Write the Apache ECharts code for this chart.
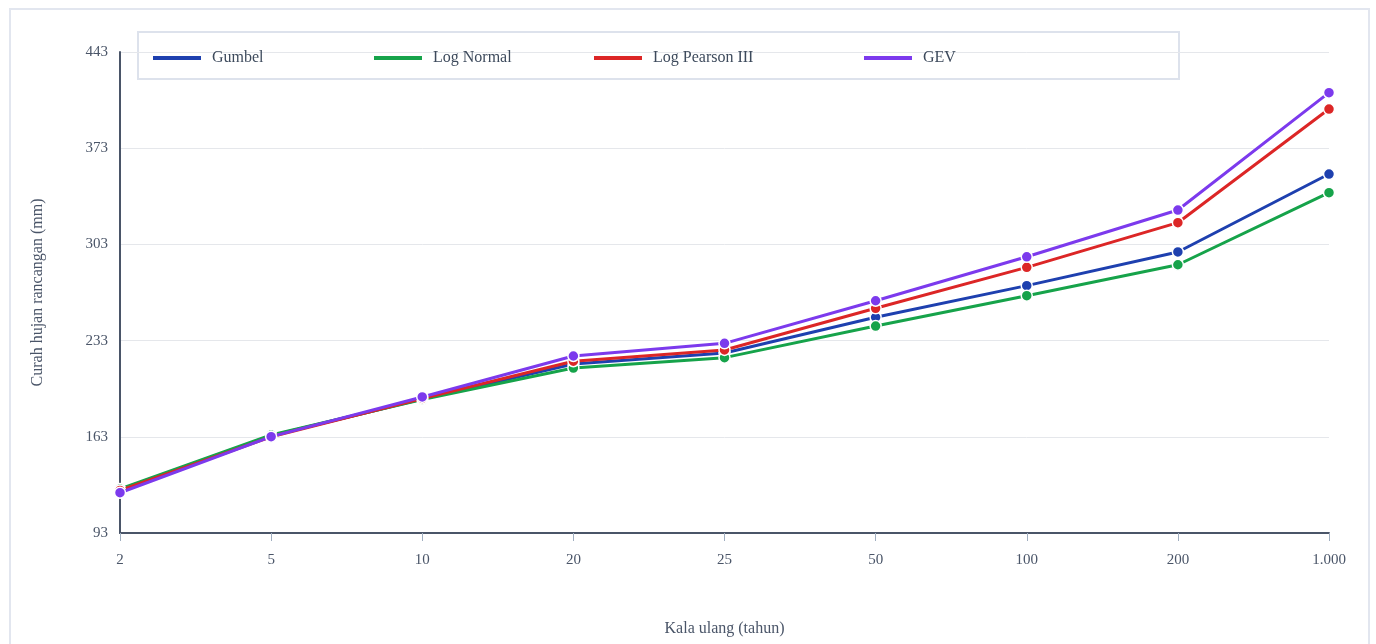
<!DOCTYPE html>
<html>
<head>
<meta charset="utf-8">
<script src="https://cdn.jsdelivr.net/npm/echarts@6/dist/echarts.min.js"></script>
<style>
  html, body { margin: 0; padding: 0; background: #ffffff; overflow: hidden; }
  #frame { position: absolute; left: 9px; top: 8px; width: 1361px; height: 700px; border: 2px solid #e2e6ef; box-sizing: border-box; }
  #chart { position: absolute; left: 0; top: 0; width: 1376px; height: 644px; }
</style>
</head>
<body>
<div id="frame"></div>
<div id="chart"></div>
<script>
const categories = ['2', '5', '10', '20', '25', '50', '100', '200', '1.000'];
const gumbel      = [124.5, 163.8, 190.5, 216.0, 224.0, 250.0, 273.0, 297.5, 354.2];
const logNormal   = [125.0, 164.3, 190.1, 213.0, 220.6, 243.6, 265.7, 288.2, 340.6];
const logPearson  = [124.0, 163.0, 190.9, 218.0, 226.2, 256.5, 286.3, 318.8, 401.5];
const gev         = [122.3, 163.1, 192.0, 221.8, 231.0, 262.0, 294.0, 328.0, 413.4];
const seriesNames = ['Gumbel', 'Log Normal', 'Log Pearson III', 'GEV'];
const seriesColors = ['#1e40af', '#16a34a', '#dc2626', '#7c3aed'];
const yMin = 93, yMax = 443, yStep = 70;

const font = '"Liberation Serif", "DejaVu Serif", serif';
const textColor = '#4a5568';
const chart = echarts.init(document.getElementById('chart'));
const values = [gumbel, logNormal, logPearson, gev];
const legendLefts = [153, 374, 594, 864];

chart.setOption({
  animation: false,
  textStyle: { fontFamily: font },
  graphic: [{
    type: 'rect', left: 137, top: 31, z: 0,
    shape: { width: 1041, height: 47 },
    style: { fill: '#ffffff', stroke: '#dde2ec', lineWidth: 2 }
  }],
  legend: seriesNames.map((n, i) => ({
    left: legendLefts[i], top: 50, padding: 0,
    icon: 'rect', itemWidth: 48, itemHeight: 4, itemGap: 10,
    itemStyle: { color: seriesColors[i], borderWidth: 0 },
    lineStyle: { width: 4, color: seriesColors[i] },
    textStyle: { fontFamily: font, fontSize: 16, color: '#3d4a5c', padding: [0, 0, 0, 6] },
    data: [n], z: 5
  })),
  grid: { left: 120, right: 47, top: 52, bottom: 111, containLabel: false },
  xAxis: {
    type: 'category', data: categories, boundaryGap: false,
    name: 'Kala ulang (tahun)', nameLocation: 'middle', nameGap: 88,
    nameTextStyle: { fontFamily: font, fontSize: 16, color: textColor },
    axisLine: { lineStyle: { color: '#4a5568', width: 2 } },
    axisTick: { alignWithLabel: true, length: 8, lineStyle: { color: '#a0aec0', width: 1 } },
    axisLabel: { fontFamily: font, fontSize: 15, color: textColor, margin: 20 },
    splitLine: { show: false }
  },
  yAxis: {
    type: 'value', min: yMin, max: yMax, interval: yStep,
    name: 'Curah hujan rancangan (mm)', nameLocation: 'middle', nameGap: 74,
    nameTextStyle: { fontFamily: font, fontSize: 16, color: textColor },
    axisLine: { show: true, lineStyle: { color: '#4a5568', width: 2 } },
    axisTick: { show: false },
    axisLabel: { fontFamily: font, fontSize: 15, color: textColor, margin: 12 },
    splitLine: { show: true, lineStyle: { color: '#e5e7eb', width: 1 } }
  },
  series: seriesNames.map((n, i) => ({
    name: n, type: 'line', data: values[i],
    color: seriesColors[i],
    lineStyle: { width: 3, color: seriesColors[i] },
    symbol: 'circle', symbolSize: 11,
    itemStyle: { color: seriesColors[i], borderColor: '#ffffff', borderWidth: 1.5 },
    z: 2 + i
  }))
});
</script>
</body>
</html>
